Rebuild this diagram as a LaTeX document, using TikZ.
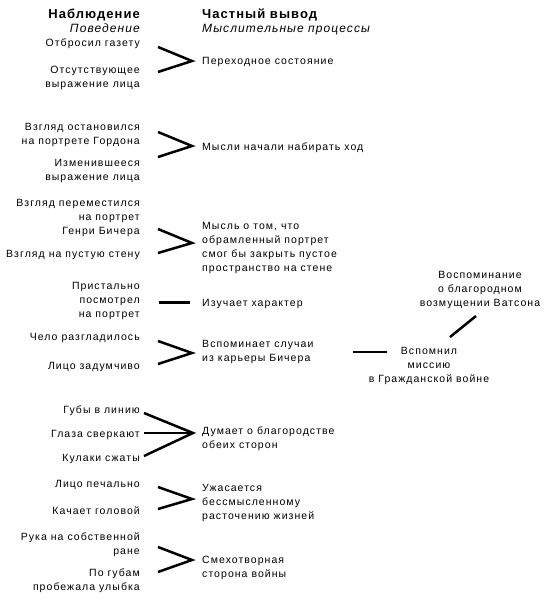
\documentclass[tikz,border=0pt]{standalone}
\usepackage{fontspec}
\setmainfont{Liberation Sans}[LetterSpace=10]
\newfontfamily\hdbf{Liberation Sans}[LetterSpace=8,UprightFont=*-Bold]
\newfontfamily\hdit{Liberation Sans}[LetterSpace=9,UprightFont=*-Italic]
\newcommand\tabR[1]{\begin{tabular}[t]{@{}r@{}}#1\end{tabular}}
\newcommand\tabL[1]{\begin{tabular}[t]{@{}l@{}}#1\end{tabular}}
\newcommand\tabC[1]{\begin{tabular}[t]{@{}c@{}}#1\end{tabular}}
\begin{document}
\begin{tikzpicture}[x=1pt,y=-1pt,
  txt/.style={inner sep=0pt,font=\fontsize{10.5}{14}\selectfont},
  obs/.style={txt,anchor=base east},
  inf/.style={txt,anchor=base west},
  mid/.style={txt,anchor=base},
  hbold/.style={font=\fontsize{13}{14}\hdbf},
  hital/.style={font=\fontsize{12}{14}\hdit},
  conn/.style={line width=2.5pt}]
\useasboundingbox (0,0) rectangle (554,610);
% headers
\node[obs,hbold] (h1) at (140,19) {Наблюдение};
\node[obs,hital] (h2) at (140,33) {Поведение};
\node[inf,hbold] (h3) at (202,19) {Частный вывод};
\node[inf,hital] (h4) at (202,33) {Мыслительные процессы};
% group 1
\node[obs] (a1) at (140,47) {Отбросил газету};
\node[obs] (a2) at (140,74) {\tabR{Отсутствующее\\выражение лица}};
\node[inf] (ar) at (202,65) {Переходное состояние};
\coordinate (a1s) at (158,47); \coordinate (a2s) at (158,72); \coordinate (aj) at (192,61);
\draw[conn] (a1s) -- (aj) -- (a2s);
% group 2
\node[obs] (b1) at (140,130) {\tabR{Взгляд остановился\\на портрете Гордона}};
\node[obs] (b2) at (140,166) {\tabR{Изменившееся\\выражение лица}};
\node[inf] (br) at (202,150) {Мысли начали набирать ход};
\coordinate (b1s) at (158,132); \coordinate (b2s) at (158,157); \coordinate (bj) at (192,146);
\draw[conn] (b1s) -- (bj) -- (b2s);
% group 3
\node[obs] (c1) at (140,206) {\tabR{Взгляд переместился\\на портрет\\Генри Бичера}};
\node[obs] (c2) at (140,257) {Взгляд на пустую стену};
\node[inf] (cr) at (202,229) {\tabL{Мысль о том, что\\обрамленный портрет\\смог бы закрыть пустое\\пространство на стене}};
\coordinate (c1s) at (158,229); \coordinate (c2s) at (158,253); \coordinate (cj) at (192,243);
\draw[conn] (c1s) -- (cj) -- (c2s);
% group 4
\node[obs] (d1) at (140,289) {\tabR{Пристально\\посмотрел\\на портрет}};
\node[inf] (dr) at (202,306) {Изучает характер};
\coordinate (d1s) at (159,302.5); \coordinate (dj) at (190,302.5);
\draw[conn] (d1s) -- (dj);
% group 5
\node[obs] (e1) at (140,340) {Чело разгладилось};
\node[obs] (e2) at (140,369) {Лицо задумчиво};
\node[inf] (er) at (202,347) {\tabL{Вспоминает случаи\\из карьеры Бичера}};
\coordinate (e1s) at (158,341); \coordinate (e2s) at (158,364); \coordinate (ej) at (192,353);
\draw[conn] (e1s) -- (ej) -- (e2s);
\node[mid] (m1) at (429,354) {\tabC{Вспомнил\\миссию\\в Гражданской войне}};
\node[mid] (m2) at (480,278) {\tabC{Воспоминание\\о благородном\\возмущении Ватсона}};
\coordinate (em1) at (353,352); \coordinate (em2) at (387,352);
\draw[conn] (em1) -- (em2);
\coordinate (mm1) at (450,337); \coordinate (mm2) at (476,316);
\draw[conn] (mm1) -- (mm2);
% group 6
\node[obs] (f1) at (140,413) {Губы в линию};
\node[obs] (f2) at (140,437) {Глаза сверкают};
\node[obs] (f3) at (140,461) {Кулаки сжаты};
\node[inf] (fr) at (202,434) {\tabL{Думает о благородстве\\обеих сторон}};
\coordinate (f1s) at (144,413); \coordinate (f2s) at (144,433); \coordinate (f3s) at (144,456); \coordinate (fj) at (193,433);
\draw[conn] (f1s) -- (fj) -- (f3s);
\draw[conn] (f2s) -- (fj);
% group 7
\node[obs] (g1) at (140,487) {Лицо печально};
\node[obs] (g2) at (140,514) {Качает головой};
\node[inf] (gr) at (202,491) {\tabL{Ужасается\\бессмысленному\\расточению жизней}};
\coordinate (g1s) at (158,487); \coordinate (g2s) at (158,509); \coordinate (gj) at (192,499);
\draw[conn] (g1s) -- (gj) -- (g2s);
% group 8
\node[obs] (k1) at (140,540) {\tabR{Рука на собственной\\ране}};
\node[obs] (k2) at (140,576) {\tabR{По губам\\пробежала улыбка}};
\node[inf] (kr) at (202,563) {\tabL{Смехотворная\\сторона войны}};
\coordinate (k1s) at (158,547); \coordinate (k2s) at (158,572); \coordinate (kj) at (192,560);
\draw[conn] (k1s) -- (kj) -- (k2s);
\end{tikzpicture}
\end{document}
